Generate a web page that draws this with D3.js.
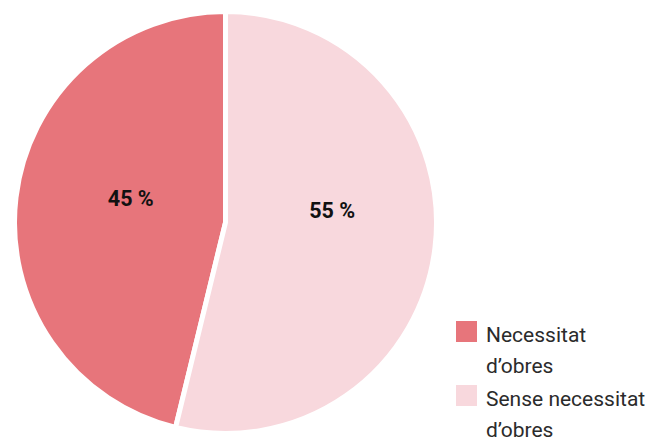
<!DOCTYPE html>
<html><head><meta charset="utf-8">
<script src="https://cdn.jsdelivr.net/npm/d3@7"></script>
<style>html,body{margin:0;padding:0;background:#fff;}svg{display:block;}</style>
</head><body>
<script>
const categories = ["Necessitat d’obres", "Sense necessitat d’obres"];
const legendLines = [["Necessitat", "d’obres"], ["Sense necessitat", "d’obres"]];
const values = [46.2, 53.8];
const valueLabels = ["45 %", "55 %"];
const colors = ["#e7757b", "#f8d8dd"];

const W = 648, H = 440;
const cx = 225.5, cy = 222.5, R = 211;
const svg = d3.select("body").append("svg").attr("width", W).attr("height", H);

const total = d3.sum(values);
const pie = d3.pie().sort(null).value(d => d)
  .startAngle(-2 * Math.PI * values[0] / total)
  .endAngle(2 * Math.PI - 2 * Math.PI * values[0] / total);
const arcs = pie(values);
const arc = d3.arc().innerRadius(0).outerRadius(R);
const color = d3.scaleOrdinal().domain(categories).range(colors);

const g = svg.append("g").attr("transform", `translate(${cx},${cy})`);
g.selectAll("path").data(arcs).join("path")
  .attr("d", arc).attr("fill", (d, i) => color(categories[i]))
  .attr("stroke", "#fff").attr("stroke-width", 5).attr("stroke-linejoin", "miter");

const nudge = [[10, -11], [2, -25]];
g.selectAll("text.v").data(arcs).join("text")
  .attr("class", "v")
  .attr("x", (d, i) => arc.centroid(d)[0] + nudge[i][0])
  .attr("y", (d, i) => arc.centroid(d)[1] + nudge[i][1])
  .attr("text-anchor", "middle").attr("dominant-baseline", "central")
  .attr("font-family", "Roboto, 'Noto Sans', sans-serif")
  .attr("font-weight", 700).attr("font-size", 21.5).attr("fill", "#111")
  .text((d, i) => valueLabels[i]);

const leg = svg.append("g").attr("transform", "translate(456,321)");
const item = leg.selectAll("g").data(categories).join("g")
  .attr("transform", (d, i) => `translate(0,${i * 64})`);
item.append("rect").attr("width", 21).attr("height", 21).attr("fill", d => color(d));
item.each(function (d, i) {
  const t = d3.select(this).append("text")
    .attr("font-family", "Roboto, 'Noto Sans', sans-serif")
    .attr("font-size", 21).attr("fill", "#2b2b2b");
  legendLines[i].forEach((ln, j) => {
    t.append("tspan").attr("x", 30).attr("y", 21 + j * 31).text(ln);
  });
});
</script>
</body></html>
